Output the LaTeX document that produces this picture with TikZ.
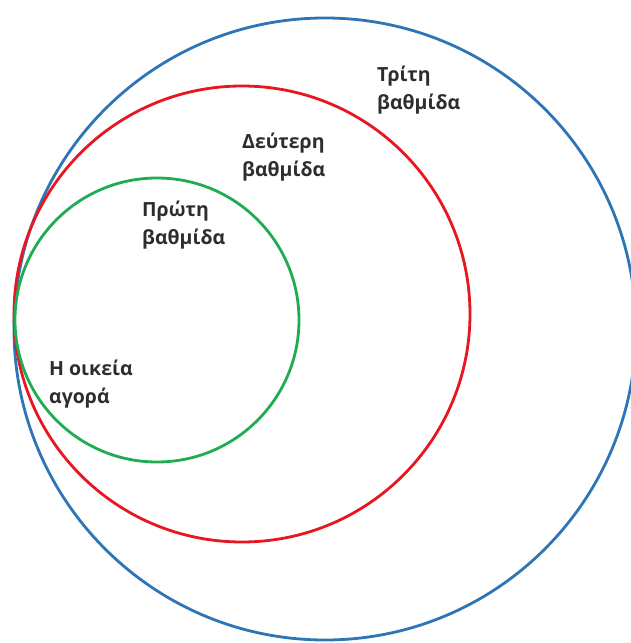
\documentclass[tikz,border=0pt]{standalone}
\usepackage{fontspec}
\setmainfont{Open Sans}
\definecolor{ringblue}{RGB}{46,117,182}
\definecolor{ringred}{RGB}{232,22,32}
\definecolor{ringgreen}{RGB}{32,172,82}
\definecolor{labelgray}{RGB}{45,45,45}
\begin{document}
\begin{tikzpicture}[x=1pt,y=-1pt,
  ring/.style={line width=2.8pt},
  lbl/.style={align=left,anchor=west,inner sep=0pt,text=labelgray,
    font=\fontsize{19.5}{28}\selectfont\bfseries}]
\useasboundingbox[fill=white] (0,0) rectangle (631,643);
% three nested rings, all touching on the left
\draw[ring,ringblue]  (325,329) circle[radius=311];
\draw[ring,ringred]   (242,314) circle[radius=228];
\draw[ring,ringgreen] (157,320) circle[radius=142];
% labels of the levels
\node[lbl] (third)  at (377,90)  {Τρίτη\\βαθμίδα};
\node[lbl] (second) at (242,157) {Δεύτερη\\βαθμίδα};
\node[lbl] (first)  at (142,225) {Πρώτη\\βαθμίδα};
\node[lbl] (home)   at (49,384)  {Η οικεία\\αγορά};
\end{tikzpicture}
\end{document}
